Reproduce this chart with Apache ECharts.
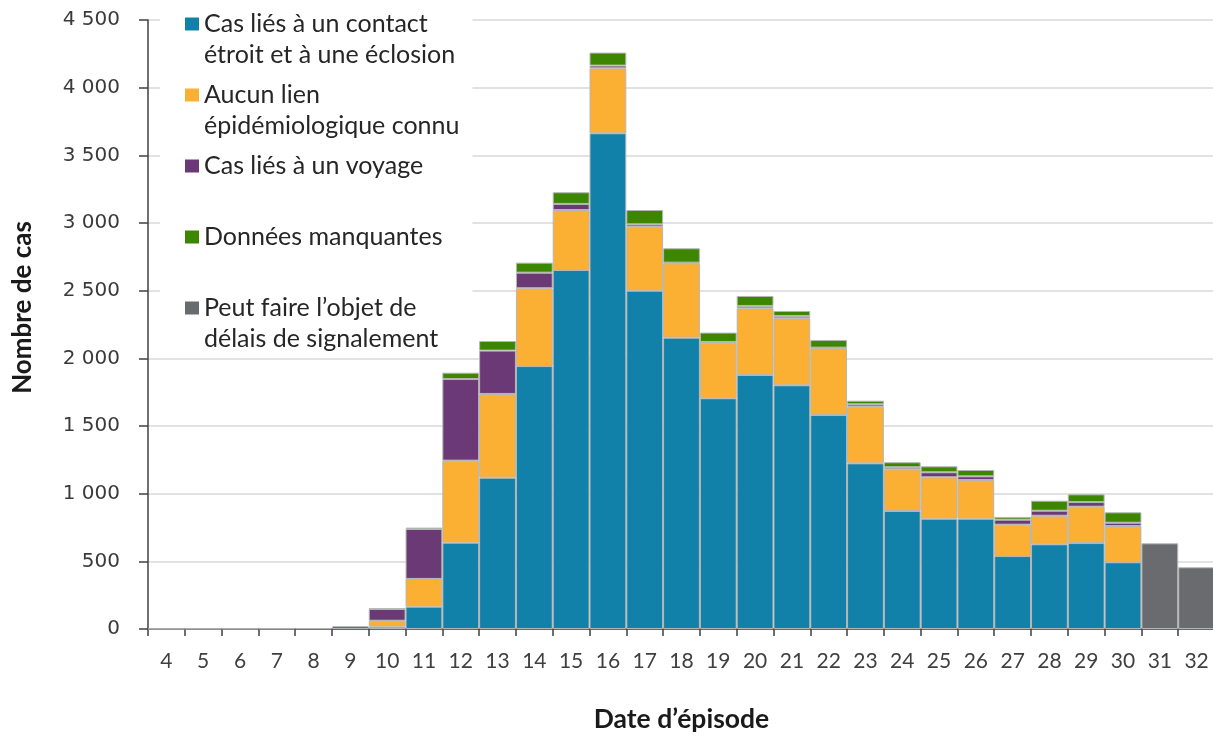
<!DOCTYPE html>
<html>
<head>
<meta charset="utf-8">
<script src="https://cdn.jsdelivr.net/npm/echarts@6.0.0/dist/echarts.min.js"></script>
<style>
  html, body { margin: 0; padding: 0; background: #fff; }
  #chart { width: 1213px; height: 741px; }
</style>
</head>
<body>
<div id="chart"></div>
<script>
// date d'épisode (semaines 4 à 32)
var categories = ['4','5','6','7','8','9','10','11','12','13','14','15','16','17','18','19','20','21','22','23','24','25','26','27','28','29','30','31','32'];

var contactEtroit = [null,null,null,null,null,null,17,165,638,1118,1943,2653,3663,2500,2153,1705,1877,1801,1581,1224,872,815,815,539,626,635,493,null,null];
var aucunLien = [null,null,null,null,null,null,44,205,606,619,575,443,480,473,549,411,493,495,493,419,308,306,286,232,211,269,268,null,null];
var voyage = [2,3,3,4,6,20,87,369,603,320,115,45,20,17,5,5,17,17,5,17,15,37,27,37,37,34,24,null,null];
var manquantes = [null,null,null,null,null,null,3,10,47,71,74,86,96,106,106,69,74,37,56,27,37,44,47,20,74,57,77,null,null];
var delais = [null,null,null,null,null,null,null,null,null,null,null,null,null,null,null,null,null,null,null,null,null,null,null,null,null,null,null,633,456];

var seriesNames = ['contact', 'aucun', 'voyage', 'manquantes', 'delais'];
var legendLabels = {
  contact: 'Cas liés à un contact\nétroit et à une éclosion',
  aucun: 'Aucun lien\népidémiologique connu',
  voyage: 'Cas liés à un voyage\n\u00a0',
  manquantes: 'Données manquantes\n\u00a0',
  delais: 'Peut faire l\u2019objet de\ndélais de signalement'
};
var colors = ['#1181aa', '#fbb034', '#6a3976', '#3d8700', '#6a6b6f'];

var spaceThousands = function (v) {
  return String(v).replace(/\B(?=(\d{3})+(?!\d))/g, ' ');
};

var makeBar = function (name, data, color) {
  return {
    name: name,
    type: 'bar',
    stack: 'total',
    data: data,
    barCategoryGap: '0%',
    itemStyle: { color: color, borderColor: '#b5b5b5', borderWidth: 1 },
    emphasis: { disabled: true }
  };
};

var myChart = echarts.init(document.getElementById('chart'), null, { renderer: 'canvas' });
var option = {
  animation: false,
  backgroundColor: '#fff',
  textStyle: { fontFamily: 'Lato' },
  grid: { left: 148, right: -2, top: 20, bottom: 112, containLabel: false, outerBoundsMode: 'none' },
  legend: {
    orient: 'vertical',
    left: 160,
    top: 3,
    padding: [5.5, 13, 0, 25],
    backgroundColor: '#fff',
    itemGap: 9,
    itemWidth: 14,
    itemHeight: 62,
    selectedMode: false,
    icon: 'path://M0,9H14V22H0Z M0,0H0.05V0.05H0Z M0,61.95H0.05V62H0Z',
    itemStyle: { borderWidth: 0 },
    data: seriesNames,
    formatter: function (name) { return legendLabels[name]; },
    textStyle: { fontFamily: 'Lato', fontSize: 25, lineHeight: 31, color: '#262626' }
  },
  xAxis: {
    type: 'category',
    data: categories,
    boundaryGap: true,
    axisLine: { lineStyle: { color: '#404040', width: 1.5 } },
    axisTick: { show: true, length: 7, lineStyle: { color: '#404040', width: 1.5 } },
    axisLabel: { interval: 0, margin: 22, fontFamily: 'Lato', fontSize: 21, color: '#404040' },
    name: 'Date d\u2019épisode',
    nameLocation: 'middle',
    nameGap: 77,
    nameTextStyle: { fontFamily: 'Lato', fontWeight: 'bold', fontSize: 26.5, color: '#1a1a1a' }
  },
  yAxis: {
    type: 'value',
    min: 0,
    max: 4500,
    interval: 500,
    axisLine: { show: true, lineStyle: { color: '#404040', width: 1.5 } },
    axisTick: { show: true, length: 9, lineStyle: { color: '#404040', width: 1.5 } },
    splitLine: { lineStyle: { color: '#d9d9d9', width: 1.5 } },
    axisLabel: { margin: 28, fontFamily: 'DejaVu Sans', fontSize: 20, color: '#3a3a3a', formatter: spaceThousands },
    name: 'Nombre de cas',
    nameLocation: 'middle',
    nameRotate: 90,
    nameGap: 112,
    nameTextStyle: { fontFamily: 'Lato', fontWeight: 'bold', fontSize: 26, color: '#1a1a1a', padding: [0, 0, 0, 34] }
  },
  series: [
    makeBar('contact', contactEtroit, colors[0]),
    makeBar('aucun', aucunLien, colors[1]),
    makeBar('voyage', voyage, colors[2]),
    makeBar('manquantes', manquantes, colors[3]),
    makeBar('delais', delais, colors[4])
  ]
};
myChart.setOption(option);
window.onresize = myChart.resize;
</script>
</body>
</html>
